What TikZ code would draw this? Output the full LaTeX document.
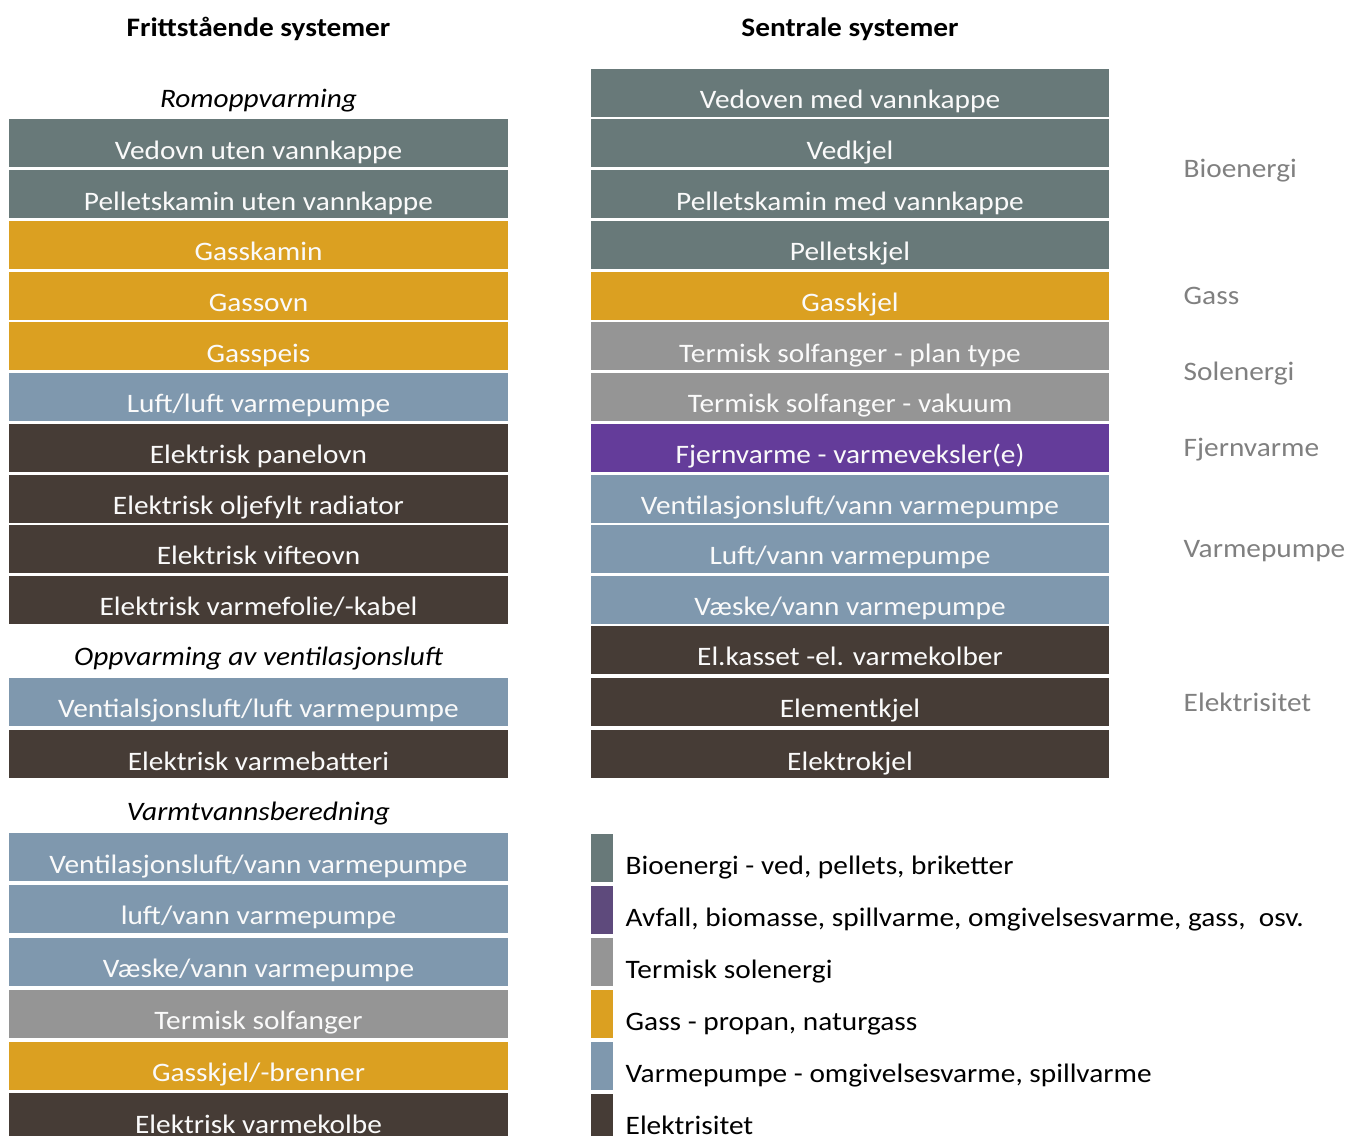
\documentclass[tikz,border=0pt]{standalone}
\usepackage{fontspec}
\setmainfont{Carlito}[FakeStretch=1.1]
\usepackage{tikz}
\usetikzlibrary{positioning}
\usepackage{xcolor}

\definecolor{bioC}{RGB}{104,121,121}
\definecolor{gassC}{RGB}{219,160,33}
\definecolor{solC}{RGB}{149,149,149}
\definecolor{fjernC}{RGB}{100,60,154}
\definecolor{fjernL}{RGB}{94,74,124}
\definecolor{vpC}{RGB}{127,152,174}
\definecolor{elC}{RGB}{70,60,54}
\definecolor{sideC}{RGB}{128,128,128}

\begin{document}
\begin{tikzpicture}[x=0.75pt,y=0.75pt,yscale=-1,xscale=1,
  box/.style={inner sep=0pt, text height=30pt, text depth=6pt, minimum height=36pt, text={rgb,255:red,250;green,250;blue,250}, font=\fontsize{20}{24}\selectfont},
  lbox/.style={box, minimum width=374.25pt},
  rbox/.style={box, minimum width=388.5pt},
  bio/.style={fill=bioC}, gass/.style={fill=gassC}, sol/.style={fill=solC},
  fjern/.style={fill=fjernC}, vp/.style={fill=vpC}, elek/.style={fill=elC},
  swatch/.style={inner sep=0pt, minimum width=16.5pt, minimum height=36pt},
  head/.style={anchor=base, font=\bfseries\fontsize{20}{24}\selectfont},
  sub/.style={anchor=base, font=\itshape\fontsize{20}{24}\selectfont},
  side/.style={anchor=base west, text=sideC, font=\fontsize{20}{24}\selectfont},
  legtext/.style={anchor=base west, font=\fontsize{20}{24}\selectfont}]
\useasboundingbox (0,0) rectangle (1347,1136);

% Headings
\node[head] (hFri) at (258.5,36) {Frittstående systemer};
\node[head] (hSen) at (850,36) {Sentrale systemer};

% Frittstaende: romoppvarming
\node[sub] (sRom) at (258.5,107) {Romoppvarming};
\node[lbox,bio] (l1) at (258.5,143) {Vedovn uten vannkappe};
\node[lbox,bio] (l2) at (258.5,194) {Pelletskamin uten vannkappe};
\node[lbox,gass] (l3) at (258.5,244.5) {Gasskamin};
\node[lbox,gass] (l4) at (258.5,295.5) {Gassovn};
\node[lbox,gass] (l5) at (258.5,346) {Gasspeis};
\node[lbox,vp] (l6) at (258.5,396.5) {Luft/luft varmepumpe};
\node[lbox,elek] (l7) at (258.5,447.5) {Elektrisk panelovn};
\node[lbox,elek] (l8) at (258.5,498.5) {Elektrisk oljefylt radiator};
\node[lbox,elek] (l9) at (258.5,548.5) {Elektrisk vifteovn};
\node[lbox,elek] (l10) at (258.5,599.5) {Elektrisk varmefolie/-kabel};

% Frittstaende: ventilasjonsluft
\node[sub] (sVent) at (258.5,665) {Oppvarming av ventilasjonsluft};
\node[lbox,vp] (v1) at (258.5,701.5) {Ventialsjonsluft/luft varmepumpe};
\node[lbox,elek] (v2) at (258.5,754) {Elektrisk varmebatteri};

% Frittstaende: varmtvann
\node[sub] (sVann) at (258.5,820) {Varmtvannsberedning};
\node[lbox,vp] (w1) at (258.5,857) {Ventilasjonsluft/vann varmepumpe};
\node[lbox,vp] (w2) at (258.5,908.5) {luft/vann varmepumpe};
\node[lbox,vp] (w3) at (258.5,961.5) {Væske/vann varmepumpe};
\node[lbox,sol] (w4) at (258.5,1013.5) {Termisk solfanger};
\node[lbox,gass] (w5) at (258.5,1065.5) {Gasskjel/-brenner};
\node[lbox,elek] (w6) at (258.5,1117) {Elektrisk varmekolbe};

% Sentrale systemer
\node[rbox,bio] (r0) at (850,92.5) {Vedoven med vannkappe};
\node[rbox,bio] (r1) at (850,143) {Vedkjel};
\node[rbox,bio] (r2) at (850,194) {Pelletskamin med vannkappe};
\node[rbox,bio] (r3) at (850,244.5) {Pelletskjel};
\node[rbox,gass] (r4) at (850,295.5) {Gasskjel};
\node[rbox,sol] (r5) at (850,346) {Termisk solfanger - plan type};
\node[rbox,sol] (r6) at (850,396.5) {Termisk solfanger - vakuum};
\node[rbox,fjern] (r7) at (850,447.5) {Fjernvarme - varmeveksler(e)};
\node[rbox,vp] (r8) at (850,498.5) {Ventilasjonsluft/vann varmepumpe};
\node[rbox,vp] (r9) at (850,548.5) {Luft/vann varmepumpe};
\node[rbox,vp] (r10) at (850,599.5) {Væske/vann varmepumpe};
\node[rbox,elek] (r11) at (850,649.5) {El.kasset -el. varmekolber};
\node[rbox,elek] (r12) at (850,701.5) {Elementkjel};
\node[rbox,elek] (r13) at (850,754) {Elektrokjel};

% Side labels
\node[side] (tBio) at (1179,177) {Bioenergi};
\node[side] (tGass) at (1179,304) {Gass};
\node[side] (tSol) at (1179,380) {Solenergi};
\node[side] (tFjern) at (1179,456) {Fjernvarme};
\node[side] (tVp) at (1179,557) {Varmepumpe};
\node[side] (tEl) at (1179,711) {Elektrisitet};

% Legend
\node[swatch,fill=bioC] (k1) at (602,858) {};
\node[swatch,fill=fjernL] (k2) at (602,910) {};
\node[swatch,fill=solC] (k3) at (602,962) {};
\node[swatch,fill=gassC] (k4) at (602,1014) {};
\node[swatch,fill=vpC] (k5) at (602,1066) {};
\node[swatch,fill=elC] (k6) at (602,1118) {};
\node[legtext] (e1) at (621,874) {Bioenergi - ved, pellets, briketter};
\node[legtext] (e2) at (621,926) {Avfall, biomasse, spillvarme, omgivelsesvarme, gass,\ \ osv.};
\node[legtext] (e3) at (621,978) {Termisk solenergi};
\node[legtext] (e4) at (621,1030) {Gass - propan, naturgass};
\node[legtext] (e5) at (621,1082) {Varmepumpe - omgivelsesvarme, spillvarme};
\node[legtext] (e6) at (621,1134) {Elektrisitet};

\end{tikzpicture}
\end{document}
